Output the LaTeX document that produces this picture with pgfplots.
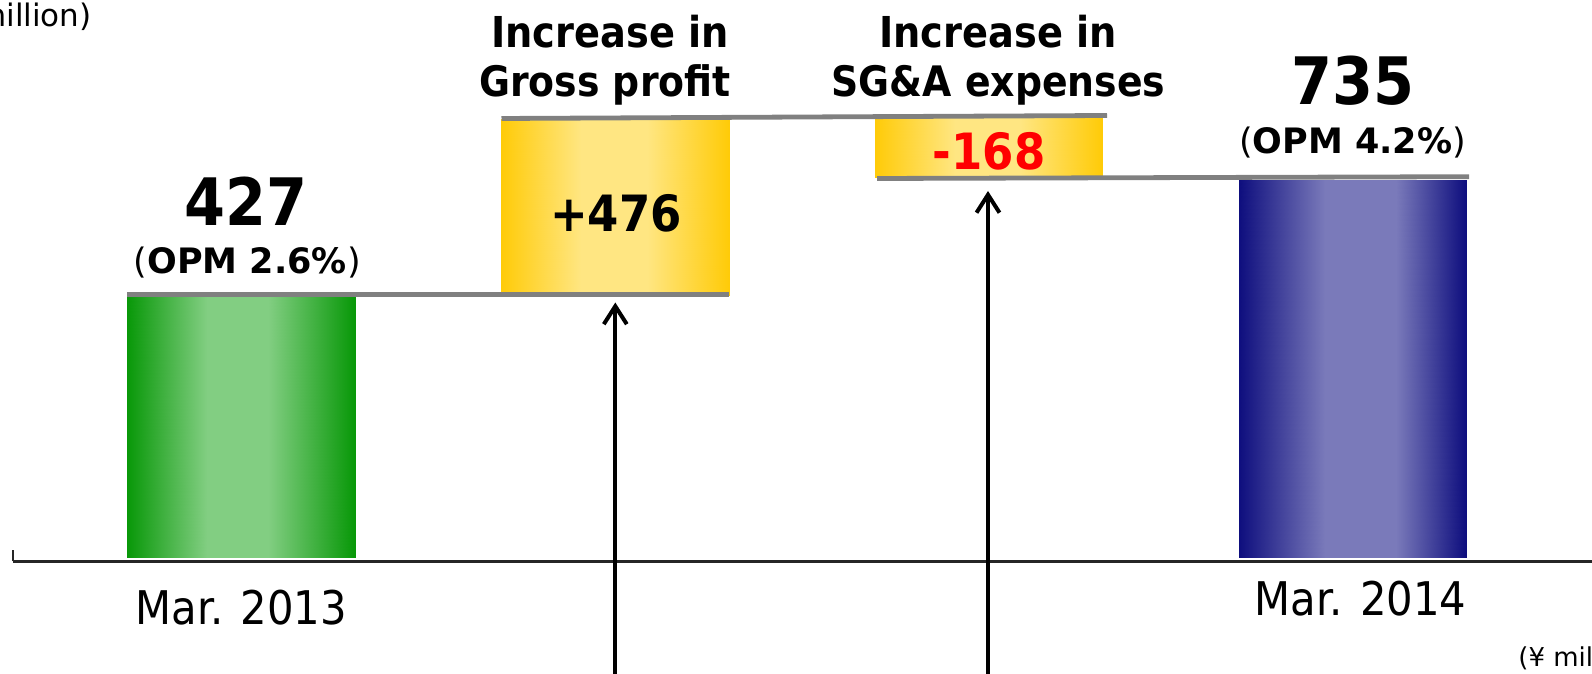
\documentclass[border=0pt]{standalone}
\usepackage{fontspec}
\setmainfont{DejaVu Sans Condensed}
\newfontfamily\widefont{DejaVu Sans}
\usepackage{pgfplots}
\pgfplotsset{compat=1.18}
\usetikzlibrary{arrows.meta}

\definecolor{linegray}{RGB}{128,128,128}
\pgfplotsset{
  colormap={gbar}{rgb255=(8,152,8) rgb255=(130,206,130)},
  colormap={ybar}{rgb255=(255,203,8) rgb255=(255,230,130)},
  colormap={bbar}{rgb255=(14,14,126) rgb255=(122,122,186)},
  gradbar/.style={patch, patch type=rectangle, shader=interp,
    point meta=explicit, point meta min=0, point meta max=1, colormap name=#1},
}

\begin{document}
\begin{tikzpicture}
\begin{axis}[
    scale only axis, width=796pt, height=337pt,
    xmin=0, xmax=1592, ymin=-116, ymax=558,
    hide axis, clip=false,
  ]
  % bars as drawn on the slide (heights not to scale with 427 / +476 / -168 / 735)
  % each bar: dark edge -> light middle -> dark edge
  \addplot[gradbar=gbar] coordinates {
    (127,0)[0] (206.8,0)[1] (206.8,261.5)[1] (127,261.5)[0]
    (206.8,0)[1] (268.4,0)[1] (268.4,261.5)[1] (206.8,261.5)[1]
    (268.4,0)[1] (355,0)[0] (355,261.5)[0] (268.4,261.5)[1]
  };
  \addplot[gradbar=ybar] coordinates {
    (501.5,262.5)[0] (581.1,262.5)[1] (581.1,438.5)[1] (501.5,438.5)[0]
    (581.1,262.5)[1] (647.1,262.5)[1] (647.1,438.5)[1] (581.1,438.5)[1]
    (647.1,262.5)[1] (729,262.5)[0] (729,438.5)[0] (647.1,438.5)[1]
  };
  \addplot[gradbar=ybar] coordinates {
    (875,380.5)[0] (954.5,380.5)[1] (954.5,439.5)[1] (875,439.5)[0]
    (954.5,380.5)[1] (1020.3,380.5)[1] (1020.3,439.5)[1] (954.5,439.5)[1]
    (1020.3,380.5)[1] (1102,380.5)[0] (1102,439.5)[0] (1020.3,439.5)[1]
  };
  \addplot[gradbar=bbar] coordinates {
    (1239.3,0)[0] (1325.4,0)[1] (1325.4,378)[1] (1239.3,378)[0]
    (1325.4,0)[1] (1395.6,0)[1] (1395.6,378)[1] (1325.4,378)[1]
    (1395.6,0)[1] (1466,0)[0] (1466,378)[0] (1395.6,378)[1]
  };
  % connector lines
  \addplot[linegray, line width=2.4pt] coordinates {(127,263.5) (729,263.5)};
  \addplot[linegray, line width=2.4pt] coordinates {(501.5,439.5) (1107,442.5)};
  \addplot[linegray, line width=2.4pt] coordinates {(877,379.5) (1469,381.3)};

  % baseline
  \draw[line width=1.1pt, black!85] (axis cs:13,-3.5) -- (axis cs:1600,-3.5);
  \draw[line width=1.1pt, black!85] (axis cs:13,-3.5) -- (axis cs:13,8);

  % arrows from below
  \draw[line width=2pt, -{Straight Barb[length=9pt,width=11.5pt]}]
    (axis cs:615.3,-130) -- (axis cs:615.3,255.5);
  \draw[line width=2pt, -{Straight Barb[length=9pt,width=11.5pt]}]
    (axis cs:988,-130) -- (axis cs:988,367);

  % labels
  \tikzset{lb/.style={anchor=base, inner sep=0pt}}
  \node[lb, font=\fontsize{21.3}{24}\selectfont\bfseries] at (axis cs:610,510.3) {Increase in};
  \node[lb, font=\fontsize{21}{24}\selectfont\bfseries] at (axis cs:605,461.5) {Gross profit};
  \node[lb, font=\fontsize{21.3}{24}\selectfont\bfseries] at (axis cs:998,510.3) {Increase in};
  \node[lb, font=\fontsize{21}{24}\selectfont\bfseries] at (axis cs:998.5,461.5) {SG\&A expenses};

  \node[lb, font=\fontsize{32.7}{36}\selectfont\bfseries] at (axis cs:246,332.6) {427};
  \node[lb, font=\widefont\fontsize{17.5}{20}\selectfont\bfseries] at (axis cs:247.3,284.7) {{\mdseries(}OPM 2.6\%{\mdseries)}};
  \node[lb, font=\fontsize{32.7}{36}\selectfont\bfseries] at (axis cs:1353,453) {735};
  \node[lb, font=\widefont\fontsize{17.5}{20}\selectfont\bfseries] at (axis cs:1352.5,404.7) {{\mdseries(}OPM 4.2\%{\mdseries)}};

  \node[lb, font=\fontsize{25}{28}\selectfont\bfseries] at (axis cs:615.8,326.5) {+476};
  \node[lb, font=\fontsize{25}{28}\selectfont\bfseries, text=red] at (axis cs:989,388.5) {-168};

  \node[lb, font=\fontsize{23.2}{26}\selectfont] at (axis cs:241.3,-67) {Mar. 2013};
  \node[lb, font=\fontsize{23.2}{26}\selectfont] at (axis cs:1360.5,-58) {Mar. 2014};

  \node[anchor=base east, inner sep=0pt, font=\widefont\fontsize{15.5}{18}\selectfont] at (axis cs:92,531.3) {(¥ million)};
  \node[anchor=base west, inner sep=0pt, font=\widefont\fontsize{13}{15}\selectfont] at (axis cs:1518,-109) {(¥ million)};
\end{axis}
\pgfresetboundingbox
\path[use as bounding box] (0,0) rectangle (796pt,337pt);
\end{tikzpicture}
\end{document}
